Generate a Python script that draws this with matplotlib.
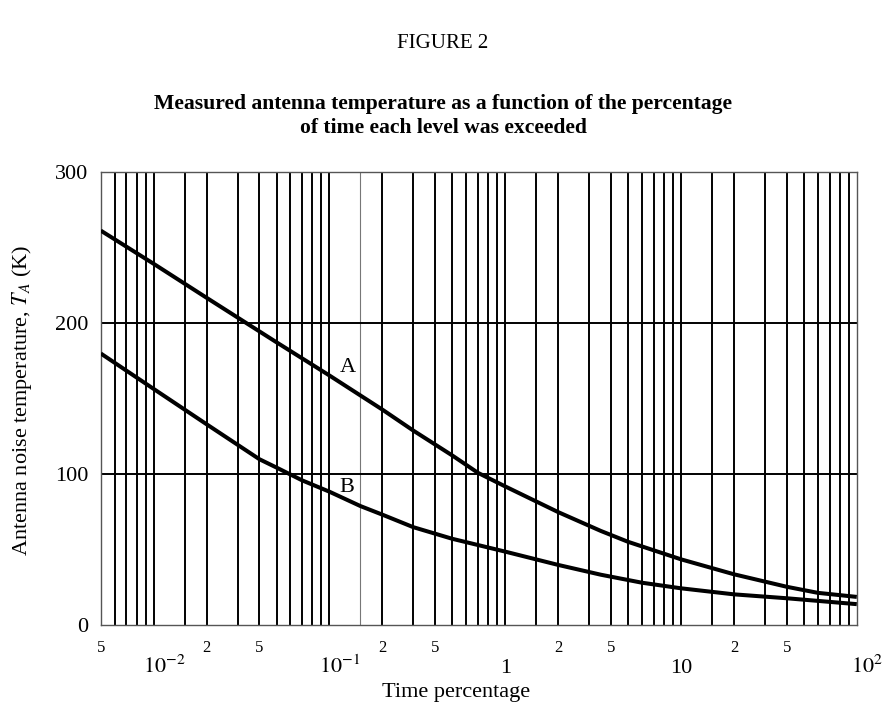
import numpy as np
import matplotlib
matplotlib.use("Agg")
import matplotlib.pyplot as plt
import matplotlib.transforms as mtransforms

plt.rcParams['font.family'] = ['Liberation Serif', 'DejaVu Serif']
plt.rcParams['mathtext.fontset'] = 'stix'

# ---- data ----
time_A = [0.005, 0.01, 0.02, 0.05, 0.1, 0.2, 0.3, 0.5, 0.7, 1, 2, 3.5, 5, 10, 20, 40, 60, 100]
curve_A = [261, 239, 216.5, 187, 165, 142.4, 128.5, 112, 100.5, 91.5, 74.5, 62, 54.8, 43.2, 33.3, 25, 21, 18.3]
time_B = [0.005, 0.01, 0.02, 0.04, 0.05, 0.07, 0.1, 0.15, 0.2, 0.3, 0.5, 1, 2, 3.5, 6, 10, 20, 40, 100]
curve_B = [179.6, 156.1, 132.7, 109.5, 104, 95.5, 88, 78.5, 72.8, 64.5, 56.8, 48.3, 39.5, 33.0, 27.7, 24, 20, 17.4, 13.5]

curve_names = ["A", "B"]
curve_label_pos = [(0.1275, 170.3), (0.1254, 90.9)]

y_ticks = [0, 100, 200, 300]
h_grid = [100, 200]

# vertical grid lines
v_grid = [6e-3, 7e-3, 8e-3, 9e-3]
for dec in [1e-2, 1e-1, 1, 10]:
    for m in [1, 1.5, 2, 3, 4, 5, 6, 7, 8, 9]:
        v_grid.append(m * dec)
faint_grid = [0.15]

minor_label_pos = [0.005, 0.02, 0.04, 0.2, 0.4, 2, 4, 20, 40]
minor_label_txt = ["5", "2", "5", "2", "5", "2", "5", "2", "5"]
major_label_pos = [0.01, 0.1, 1, 10, 100]
major_label_txt = [r"$10^{-2}$", r"$10^{-1}$", "1", "10", r"$10^{2}$"]

# ---- figure ----
fig = plt.figure(figsize=(8.86, 7.2), dpi=100)
ax = fig.add_axes([0.1137, 0.1326, 0.8533, 0.6289])
ax.set_xscale('log')
ax.set_xlim(0.005, 100)
ax.set_ylim(0, 300)

for xv in v_grid:
    if any(abs(xv - f) < 1e-9 for f in faint_grid):
        ax.axvline(xv, color='#777777', lw=0.8, zorder=1)
    else:
        ax.axvline(xv, color='black', lw=1.4, zorder=1)
for yv in h_grid:
    ax.axhline(yv, color='black', lw=1.4, zorder=1)

ax.plot(time_A, curve_A, color='black', lw=2.9, solid_capstyle='butt',
        solid_joinstyle='round', zorder=3)
ax.plot(time_B, curve_B, color='black', lw=2.9, solid_capstyle='butt',
        solid_joinstyle='round', zorder=3)

for name, (xp, yp) in zip(curve_names, curve_label_pos):
    ax.text(xp, yp, name, fontsize=16, ha='center', va='center', zorder=4)

for s in ax.spines.values():
    s.set_color('#555555')
    s.set_linewidth(1.0)

ax.set_xticks([])
ax.set_xticks([], minor=True)
ax.set_yticks(y_ticks)
ax.set_yticklabels([str(v) for v in y_ticks])
ax.tick_params(axis='y', length=0, pad=9, labelsize=16)

trans = mtransforms.blended_transform_factory(ax.transData, ax.transAxes)
for xp, t in zip(minor_label_pos, minor_label_txt):
    ax.text(xp, -0.060, t, transform=trans, fontsize=12, ha='center', va='baseline')
for xp, t in zip(major_label_pos, major_label_txt):
    if t.startswith('$'):
        dx = -4.5 if xp >= 100 else -7.5
        ax.annotate(t, xy=(xp, -0.107), xycoords=trans, xytext=(dx, 0),
                    textcoords='offset points', fontsize=16, ha='left', va='baseline',
                    annotation_clip=False)
    else:
        ax.text(xp, -0.107, t, transform=trans, fontsize=16, ha='center', va='baseline')

fig.text(0.5, 1 - 43 / 720, "FIGURE 2", fontsize=15, ha='center', va='center')
fig.text(0.5, 1 - 116 / 720,
         "Measured antenna temperature as a function of the percentage\nof time each level was exceeded",
         fontsize=15.6, fontweight='bold', ha='center', va='center', linespacing=1.22)
fig.text(456 / 886, 1 - 693 / 720, "Time percentage", fontsize=16, ha='center', va='center')
fig.text(22 / 886, 1 - 400 / 720, r"Antenna noise temperature, $T_A$ (K)", fontsize=16,
         ha='center', va='center', rotation=90)

fig.savefig("out.png", dpi=100)
